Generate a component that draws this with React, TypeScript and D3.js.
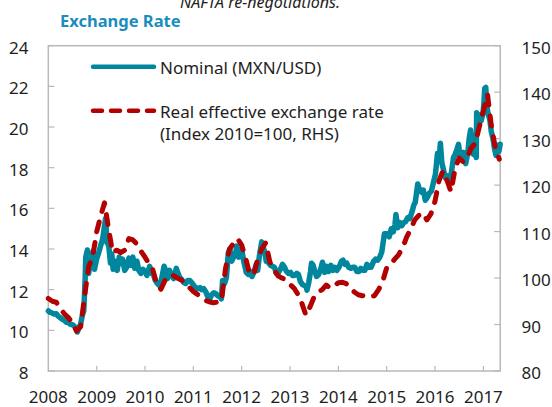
import React from "react";
import * as d3 from "d3";

const W = 552;
const H = 407;

const yearTicks = ["2008", "2009", "2010", "2011", "2012", "2013", "2014", "2015", "2016", "2017"];
const leftTicks = [8, 10, 12, 14, 16, 18, 20, 22, 24];
const rightTicks = [80, 90, 100, 110, 120, 130, 140, 150];

const legendLabels = ["Nominal (MXN/USD)", "Real effective exchange rate", "(Index 2010=100, RHS)"];
const titleText = "Exchange Rate";
const topText = "NAFTA re-negotiations.";

// Nominal MXN/USD (left axis)
const nominalDates = [
  "2008-01-02","2008-01-16","2008-02-01","2008-02-15","2008-03-01","2008-03-15","2008-04-01","2008-04-15","2008-05-01","2008-05-15","2008-06-01","2008-06-15","2008-07-01","2008-07-15","2008-08-01","2008-08-08","2008-08-20","2008-09-01","2008-09-15","2008-09-25","2008-10-06","2008-10-10","2008-10-22","2008-11-01","2008-11-12","2008-11-25","2008-12-05","2008-12-15","2008-12-31",
  "2009-01-15","2009-02-01","2009-02-15","2009-03-02","2009-03-09","2009-03-20","2009-04-01","2009-04-15","2009-04-25","2009-05-05","2009-05-20","2009-06-05","2009-06-20","2009-07-01","2009-07-15","2009-08-01","2009-08-15","2009-09-01","2009-09-15","2009-10-01","2009-10-15","2009-11-01","2009-11-15","2009-12-01","2009-12-15",
  "2010-01-01","2010-01-15","2010-02-05","2010-02-20","2010-03-05","2010-03-20","2010-04-05","2010-04-20","2010-05-05","2010-05-25","2010-06-08","2010-06-20","2010-07-05","2010-07-20","2010-08-05","2010-08-25","2010-09-05","2010-09-20","2010-10-05","2010-10-20","2010-11-05","2010-11-20","2010-12-05","2010-12-20",
  "2011-01-05","2011-01-20","2011-02-05","2011-02-20","2011-03-05","2011-03-20","2011-04-05","2011-04-20","2011-05-05","2011-05-20","2011-06-05","2011-06-20","2011-07-05","2011-07-20","2011-08-01","2011-08-10","2011-08-25","2011-09-08","2011-09-22","2011-10-04","2011-10-18","2011-11-01","2011-11-15","2011-11-25","2011-12-10","2011-12-22",
  "2012-01-05","2012-01-20","2012-02-05","2012-02-20","2012-03-05","2012-03-20","2012-04-05","2012-04-20","2012-05-01","2012-05-15","2012-06-01","2012-06-12","2012-06-25","2012-07-05","2012-07-20","2012-08-05","2012-08-20","2012-09-05","2012-09-20","2012-10-05","2012-10-20","2012-11-05","2012-11-20","2012-12-05","2012-12-20",
  "2013-01-05","2013-01-20","2013-02-05","2013-02-20","2013-03-05","2013-03-20","2013-04-05","2013-04-20","2013-05-01","2013-05-09","2013-05-22","2013-06-05","2013-06-12","2013-06-24","2013-07-05","2013-07-20","2013-08-05","2013-08-20","2013-09-03","2013-09-20","2013-10-05","2013-10-20","2013-11-05","2013-11-20","2013-12-05","2013-12-20",
  "2014-01-05","2014-01-25","2014-02-05","2014-02-20","2014-03-05","2014-03-20","2014-04-05","2014-04-20","2014-05-05","2014-05-20","2014-06-05","2014-06-20","2014-07-05","2014-07-20","2014-08-05","2014-08-20","2014-09-05","2014-09-25","2014-10-10","2014-10-25","2014-11-10","2014-11-25","2014-12-05","2014-12-15",
  "2015-01-05","2015-01-20","2015-02-05","2015-02-20","2015-03-05","2015-03-12","2015-03-25","2015-04-10","2015-04-25","2015-05-10","2015-05-25","2015-06-10","2015-06-25","2015-07-10","2015-07-25","2015-08-05","2015-08-24","2015-09-05","2015-09-20","2015-10-05","2015-10-20","2015-11-05","2015-11-20","2015-12-05","2015-12-20",
  "2016-01-05","2016-01-20","2016-02-01","2016-02-11","2016-02-22","2016-03-05","2016-03-20","2016-04-05","2016-04-20","2016-05-05","2016-05-20","2016-06-01","2016-06-15","2016-06-27","2016-07-08","2016-07-20","2016-08-05","2016-08-20","2016-09-05","2016-09-15","2016-09-26","2016-10-05","2016-10-18","2016-10-28","2016-11-08","2016-11-11","2016-11-22","2016-12-01","2016-12-15","2016-12-30",
  "2017-01-06","2017-01-11","2017-01-19","2017-01-27","2017-02-08","2017-02-20","2017-03-01","2017-03-15","2017-03-27","2017-04-07","2017-04-20","2017-04-28","2017-05-08",
];
const nominalValues = [
  10.95,10.88,10.85,10.8,10.82,10.7,10.62,10.55,10.5,10.4,10.38,10.3,10.28,10.2,10.1,9.92,10.15,10.3,10.75,10.95,12.6,13.6,13.95,12.8,13.4,13.6,13.9,13.0,13.5,
  13.8,14.2,14.5,15.2,15.5,14.3,14.2,13.3,13.75,13.0,13.4,12.95,13.6,13.3,13.5,12.95,13.1,13.55,13.2,13.6,13.05,13.4,12.95,12.8,13.0,
  12.9,12.7,13.15,12.8,12.75,12.45,12.3,12.2,12.5,13.15,12.9,12.55,12.95,12.7,12.55,13.05,12.85,12.6,12.5,12.35,12.3,12.45,12.45,12.35,
  12.2,12.1,12.05,12.1,12.0,12.05,11.9,11.65,11.55,11.75,11.85,11.8,11.7,11.65,11.55,12.45,12.3,12.6,13.8,14.0,13.4,13.6,13.7,14.15,13.6,13.95,
  13.85,13.3,12.85,12.75,12.9,12.65,12.9,13.25,12.95,13.7,14.35,14.1,13.8,13.4,13.35,13.2,13.15,13.1,12.8,12.85,13.0,13.25,13.1,12.9,12.8,
  12.85,12.7,12.7,12.8,12.75,12.4,12.25,12.2,12.15,11.98,12.35,12.9,13.3,13.2,12.95,12.65,12.75,13.0,13.35,12.85,13.15,12.9,13.2,12.95,13.1,12.95,
  13.1,13.4,13.45,13.25,13.3,13.1,13.05,13.1,13.1,12.9,12.9,13.05,12.95,12.95,13.25,13.1,13.1,13.4,13.5,13.45,13.6,13.85,14.3,14.75,
  14.75,14.6,15.0,14.85,15.2,15.7,15.05,15.3,15.15,15.3,15.35,15.55,15.5,15.8,16.15,16.3,17.2,16.95,16.8,16.9,16.4,16.55,16.75,16.85,17.25,
  17.7,18.7,18.4,19.2,18.25,17.9,17.5,17.6,17.3,17.8,18.5,18.65,18.9,19.15,18.6,18.5,18.75,18.2,18.7,19.4,19.85,19.3,18.65,18.85,18.5,20.7,20.6,20.6,20.3,20.7,
  21.3,21.9,21.95,21.0,20.6,20.3,19.8,19.4,18.9,18.6,19.1,18.8,19.15,
];

// Real effective exchange rate (right axis, index 2010=100), monthly
const reerMonths = [
  "2008-01","2008-02","2008-03","2008-04","2008-05","2008-06","2008-07","2008-08","2008-09","2008-10","2008-11","2008-12",
  "2009-01","2009-02","2009-03","2009-04","2009-05","2009-06","2009-07","2009-08","2009-09","2009-10","2009-11","2009-12",
  "2010-01","2010-02","2010-03","2010-04","2010-05","2010-06","2010-07","2010-08","2010-09","2010-10","2010-11","2010-12",
  "2011-01","2011-02","2011-03","2011-04","2011-05","2011-06","2011-07","2011-08","2011-09","2011-10","2011-11","2011-12",
  "2012-01","2012-02","2012-03","2012-04","2012-05","2012-06","2012-07","2012-08","2012-09","2012-10","2012-11","2012-12",
  "2013-01","2013-02","2013-03","2013-04","2013-05","2013-06","2013-07","2013-08","2013-09","2013-10","2013-11","2013-12",
  "2014-01","2014-02","2014-03","2014-04","2014-05","2014-06","2014-07","2014-08","2014-09","2014-10","2014-11","2014-12",
  "2015-01","2015-02","2015-03","2015-04","2015-05","2015-06","2015-07","2015-08","2015-09","2015-10","2015-11","2015-12",
  "2016-01","2016-02","2016-03","2016-04","2016-05","2016-06","2016-07","2016-08","2016-09","2016-10","2016-11","2016-12",
  "2017-01","2017-02","2017-03","2017-04","2017-05",
];
const reerValues = [
  95.6,95.0,94.8,93.5,92.3,91.5,90.3,88.6,89.5,96.0,102.5,104.5,
  110.0,113.5,116.2,110.5,105.5,106.0,105.5,106.0,108.5,108.2,107.3,105.8,
  104.5,103.0,101.8,98.5,97.6,99.5,100.5,100.6,100.0,99.6,99.0,98.0,
  97.1,96.5,95.8,95.2,94.9,94.7,94.8,95.0,102.0,106.2,107.5,108.5,
  107.1,104.2,101.0,100.7,104.0,106.3,107.6,103.5,101.8,100.5,100.0,99.6,
  98.6,97.8,96.5,94.5,92.0,93.8,95.9,97.0,97.5,98.5,97.8,98.3,
  99.0,99.1,98.8,98.0,97.0,96.4,96.2,96.3,96.0,96.2,97.5,99.2,
  102.2,103.0,104.0,105.0,106.5,108.8,110.5,112.5,113.5,114.0,112.5,113.8,
  116.5,121.0,123.0,121.0,118.6,123.5,125.8,125.0,126.0,128.0,129.0,132.5,
  136.0,139.5,133.0,128.0,125.6,
];

const TEAL = "#00879d";
const RED = "#b30000";
const FRAME = "#b8b8b8";
const TEXT = "#1e1e1e";
const FONT = "'Noto Sans', 'Open Sans', sans-serif";

export default function App() {
  const left = 48.3, right = 500.2, top = 45.7, bottom = 371;
  const parse = d3.timeParse("%Y-%m-%d");
  const parseM = d3.timeParse("%Y-%m");
  const x = d3.scaleTime()
    .domain([new Date(2008, 0, 1), new Date(2017, 4, 8)])
    .range([left, right]);
  const yL = d3.scaleLinear().domain([8, 24]).range([bottom, top]);
  const yR = d3.scaleLinear().domain([80, 150]).range([bottom, top]);

  const nominal = nominalDates.map((d, i) => ({ d: parse(d) as Date, v: nominalValues[i] }));
  const reer = reerMonths.map((d, i) => ({ d: parseM(d) as Date, v: reerValues[i] }));

  const lineN = d3.line<{ d: Date; v: number }>().x(p => x(p.d)).y(p => yL(p.v)).curve(d3.curveLinear);
  const lineR = d3.line<{ d: Date; v: number }>().x(p => x(p.d)).y(p => yR(p.v)).curve(d3.curveLinear);

  const yearX = yearTicks.map(y => x(parse(`${y}-01-01`) as Date));

  return (
    <svg width={W} height={H} style={{ position: "absolute", left: 0, top: 0, background: "#fff" }} fontFamily={FONT}>
      <text x={260} y={8} textAnchor="middle" fontSize={16} fontStyle="italic" fill={TEXT}>{topText}</text>
      <text x={60} y={27} fontSize={16.5} fontWeight="bold" fill="#1a8dbf">{titleText}</text>

      {/* frame */}
      <rect x={left} y={top} width={right - left} height={bottom - top} fill="none" stroke={FRAME} strokeWidth={1.5} />
      {/* left ticks */}
      {leftTicks.map(t => (
        <g key={"l" + t}>
          <line x1={left} x2={left + 6} y1={yL(t)} y2={yL(t)} stroke={FRAME} strokeWidth={1.2} />
          <text x={28.5} y={yL(t) + 8} textAnchor="end" fontSize={17} fill={TEXT}>{t}</text>
        </g>
      ))}
      {rightTicks.map(t => (
        <g key={"r" + t}>
          <line x1={right - 6} x2={right} y1={yR(t)} y2={yR(t)} stroke={FRAME} strokeWidth={1.2} />
          <text x={521.5} y={yR(t) + 8} textAnchor="start" fontSize={17} fill={TEXT}>{t}</text>
        </g>
      ))}
      {yearTicks.map((y, i) => (
        <g key={"x" + y}>
          {i > 0 && <line x1={yearX[i]} x2={yearX[i]} y1={bottom} y2={bottom - 5} stroke={FRAME} strokeWidth={1.2} />}
          <text x={yearX[i]} y={403} textAnchor="middle" fontSize={17} fill={TEXT}>{y}</text>
        </g>
      ))}

      <path d={lineN(nominal) || ""} fill="none" stroke={TEAL} strokeWidth={5.5} strokeLinejoin="round" strokeLinecap="round" />
      <path d={lineR(reer) || ""} fill="none" stroke={RED} strokeWidth={5} strokeDasharray="10 11" strokeLinecap="round" strokeLinejoin="round" />

      {/* legend */}
      <line x1={93} x2={154} y1={66.7} y2={66.7} stroke={TEAL} strokeWidth={4.5} strokeLinecap="round" />
      <text x={160} y={73.5} fontSize={17} fill={TEXT}>{legendLabels[0]}</text>
      <line x1={93} x2={154} y1={110.7} y2={110.7} stroke={RED} strokeWidth={4.5} strokeDasharray="9 9" strokeLinecap="round" />
      <text x={160} y={117.7} fontSize={17} fill={TEXT}>{legendLabels[1]}</text>
      <text x={160} y={139.5} fontSize={17} fill={TEXT}>{legendLabels[2]}</text>
    </svg>
  );
}
